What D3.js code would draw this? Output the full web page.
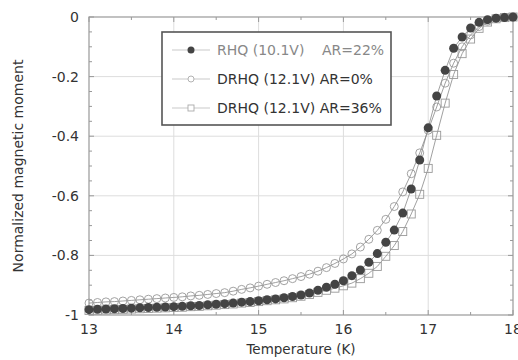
<!DOCTYPE html>
<head>
  <meta charset="utf-8">
  <style>
    body { margin: 0; background: #fff; overflow: hidden; }
    svg { display: block; }
    text { font-family: 'DejaVu Sans', sans-serif; fill: #333; }
  </style>
</head>
<body>
  <script src="https://cdn.jsdelivr.net/npm/d3@7"></script>
  <script>
    // temperature grid (K), one point per 0.1 K
    const temps = [13.0,13.1,13.2,13.3,13.4,13.5,13.6,13.7,13.8,13.9,
                   14.0,14.1,14.2,14.3,14.4,14.5,14.6,14.7,14.8,14.9,
                   15.0,15.1,15.2,15.3,15.4,15.5,15.6,15.7,15.8,15.9,
                   16.0,16.1,16.2,16.3,16.4,16.5,16.6,16.7,16.8,16.9,
                   17.0,17.1,17.2,17.3,17.4,17.5,17.6,17.7,17.8,17.9,18.0];

    // RHQ (10.1V) AR=22%  -- filled circles
    const rhq22 = [-0.982,-0.981,-0.980,-0.979,-0.978,-0.977,-0.976,-0.975,-0.974,-0.973,
                   -0.972,-0.971,-0.969,-0.968,-0.966,-0.964,-0.962,-0.960,-0.957,-0.955,
                   -0.952,-0.949,-0.946,-0.942,-0.938,-0.933,-0.926,-0.917,-0.907,-0.897,
                   -0.885,-0.868,-0.849,-0.823,-0.794,-0.756,-0.715,-0.658,-0.577,-0.480,
                   -0.372,-0.265,-0.179,-0.105,-0.067,-0.037,-0.018,-0.009,-0.004,-0.002,0.000];

    // DRHQ (12.1V) AR=0%  -- open circles
    const drhq0 = [-0.960,-0.958,-0.956,-0.955,-0.953,-0.951,-0.949,-0.947,-0.945,-0.943,
                   -0.941,-0.939,-0.936,-0.934,-0.931,-0.928,-0.925,-0.920,-0.914,-0.909,
                   -0.903,-0.897,-0.891,-0.885,-0.878,-0.871,-0.863,-0.853,-0.841,-0.827,
                   -0.812,-0.795,-0.772,-0.746,-0.716,-0.679,-0.636,-0.587,-0.526,-0.456,
                   -0.380,-0.302,-0.222,-0.155,-0.100,-0.060,-0.032,-0.014,-0.005,-0.001,0.000];

    // DRHQ (12.1V) AR=36%  -- open squares
    const drhq36 = [-0.985,-0.984,-0.983,-0.982,-0.981,-0.980,-0.979,-0.978,-0.977,-0.976,
                    -0.975,-0.974,-0.972,-0.971,-0.969,-0.967,-0.965,-0.963,-0.960,-0.958,
                    -0.955,-0.952,-0.949,-0.946,-0.942,-0.937,-0.931,-0.924,-0.917,-0.910,
                    -0.902,-0.893,-0.878,-0.860,-0.837,-0.803,-0.767,-0.720,-0.661,-0.595,
                    -0.508,-0.397,-0.289,-0.193,-0.123,-0.074,-0.038,-0.017,-0.006,-0.002,0.000];

    const xTicks = [13, 14, 15, 16, 17, 18];
    const yTicks = [0, -0.2, -0.4, -0.6, -0.8, -1];
    const legendLabels = ["RHQ (10.1V)", "DRHQ (12.1V) AR=0%", "DRHQ (12.1V) AR=36%"];

    const width = 518, height = 360;
    const margin = {top: 17, right: 5, bottom: 45, left: 89};
    const innerWidth = width - margin.left - margin.right;
    const innerHeight = height - margin.top - margin.bottom;

    const svg = d3.select("body").append("svg")
      .attr("width", width)
      .attr("height", height);

    const g = svg.append("g")
      .attr("transform", "translate(" + margin.left + "," + margin.top + ")");

    const x = d3.scaleLinear().domain([13, 18]).range([0, innerWidth]);
    const y = d3.scaleLinear().domain([-1, 0]).range([innerHeight, 0]);

    // grid
    g.append("g").selectAll("line").data(xTicks.slice(1, -1)).enter().append("line")
      .attr("x1", d => x(d)).attr("x2", d => x(d))
      .attr("y1", 0).attr("y2", innerHeight)
      .attr("stroke", "#ddd").attr("stroke-width", 1);
    g.append("g").selectAll("line").data(yTicks.slice(1, -1)).enter().append("line")
      .attr("x1", 0).attr("x2", innerWidth)
      .attr("y1", d => y(d)).attr("y2", d => y(d))
      .attr("stroke", "#ddd").attr("stroke-width", 1);

    // inward ticks on all four sides
    const xMinor = d3.range(13, 18.01, 0.5);
    const yMinor = d3.range(-1, 0.001, 0.05);
    const tickG = g.append("g").attr("stroke", "#999").attr("stroke-width", 1);
    xMinor.forEach(t => {
      const len = Number.isInteger(t) ? 5 : 3;
      tickG.append("line").attr("x1", x(t)).attr("x2", x(t)).attr("y1", innerHeight).attr("y2", innerHeight - len);
      tickG.append("line").attr("x1", x(t)).attr("x2", x(t)).attr("y1", 0).attr("y2", len);
    });
    yMinor.forEach(v => {
      const major = Math.abs(v * 5 - Math.round(v * 5)) < 1e-6;
      const len = major ? 5 : 3;
      tickG.append("line").attr("x1", 0).attr("x2", len).attr("y1", y(v)).attr("y2", y(v));
      tickG.append("line").attr("x1", innerWidth).attr("x2", innerWidth - len).attr("y1", y(v)).attr("y2", y(v));
    });

    g.append("rect")
      .attr("width", innerWidth).attr("height", innerHeight)
      .attr("fill", "none").attr("stroke", "#999").attr("stroke-width", 1.2);

    // tick labels
    g.append("g").selectAll("text").data(xTicks).enter().append("text")
      .attr("x", d => x(d)).attr("y", innerHeight + 19)
      .attr("text-anchor", "middle").style("font-size", "14px")
      .text(d => d);
    g.append("g").selectAll("text").data(yTicks).enter().append("text")
      .attr("x", -10).attr("y", d => y(d) + 5)
      .attr("text-anchor", "end").style("font-size", "14px")
      .text(d => d);

    // axis titles
    svg.append("text")
      .attr("x", margin.left + innerWidth / 2).attr("y", 354)
      .attr("text-anchor", "middle").style("font-size", "13.5px")
      .text("Temperature (K)");
    svg.append("text")
      .attr("transform", "translate(23," + (margin.top + innerHeight / 2) + ") rotate(-90)")
      .attr("text-anchor", "middle").style("font-size", "14px")
      .text("Normalized magnetic moment");

    // series
    const line = d3.line().x(d => x(d[0])).y(d => y(d[1]));
    const zip = vals => temps.map((t, i) => [t, vals[i]]);
    const sq = zip(drhq36), oc = zip(drhq0), fc = zip(rhq22);

    [sq, oc, fc].forEach(s => {
      g.append("path").datum(s).attr("d", line)
        .attr("fill", "none").attr("stroke", "#888").attr("stroke-width", 0.8);
    });

    g.append("g").selectAll("rect").data(sq).enter().append("rect")
      .attr("x", d => x(d[0]) - 4).attr("y", d => y(d[1]) - 4)
      .attr("width", 8).attr("height", 8)
      .attr("fill", "none").attr("stroke", "#999").attr("stroke-width", 0.9);
    g.append("g").selectAll("circle").data(oc).enter().append("circle")
      .attr("cx", d => x(d[0])).attr("cy", d => y(d[1])).attr("r", 4)
      .attr("fill", "none").attr("stroke", "#999").attr("stroke-width", 0.9);
    g.append("g").selectAll("circle").data(fc).enter().append("circle")
      .attr("cx", d => x(d[0])).attr("cy", d => y(d[1])).attr("r", 4.5)
      .attr("fill", "#444").attr("stroke", "none");

    // legend
    const lg = svg.append("g");
    lg.append("rect")
      .attr("x", 162).attr("y", 32).attr("width", 229).attr("height", 93)
      .attr("fill", "#fff").attr("stroke", "#555").attr("stroke-width", 1.6);
    const rowsY = [50, 79, 108];
    rowsY.forEach(ry => {
      lg.append("line").attr("x1", 172).attr("x2", 210).attr("y1", ry).attr("y2", ry)
        .attr("stroke", "#bbb").attr("stroke-width", 0.8);
    });
    lg.append("circle").attr("cx", 191).attr("cy", rowsY[0]).attr("r", 3.5).attr("fill", "#444");
    lg.append("circle").attr("cx", 191).attr("cy", rowsY[1]).attr("r", 3)
      .attr("fill", "#fff").attr("stroke", "#aaa").attr("stroke-width", 0.9);
    lg.append("rect").attr("x", 188).attr("y", rowsY[2] - 3).attr("width", 6).attr("height", 6)
      .attr("fill", "#fff").attr("stroke", "#aaa").attr("stroke-width", 0.9);

    lg.append("text").attr("x", 217).attr("y", rowsY[0] + 5).style("font-size", "14px")
      .style("fill", "#888").text(legendLabels[0]);
    lg.append("text").attr("x", 322).attr("y", rowsY[0] + 5).style("font-size", "14px")
      .style("fill", "#888").text("AR=22%");
    lg.append("text").attr("x", 217).attr("y", rowsY[1] + 5).style("font-size", "14px")
      .text(legendLabels[1]);
    lg.append("text").attr("x", 217).attr("y", rowsY[2] + 5).style("font-size", "14px")
      .text(legendLabels[2]);
  </script>
</body>
